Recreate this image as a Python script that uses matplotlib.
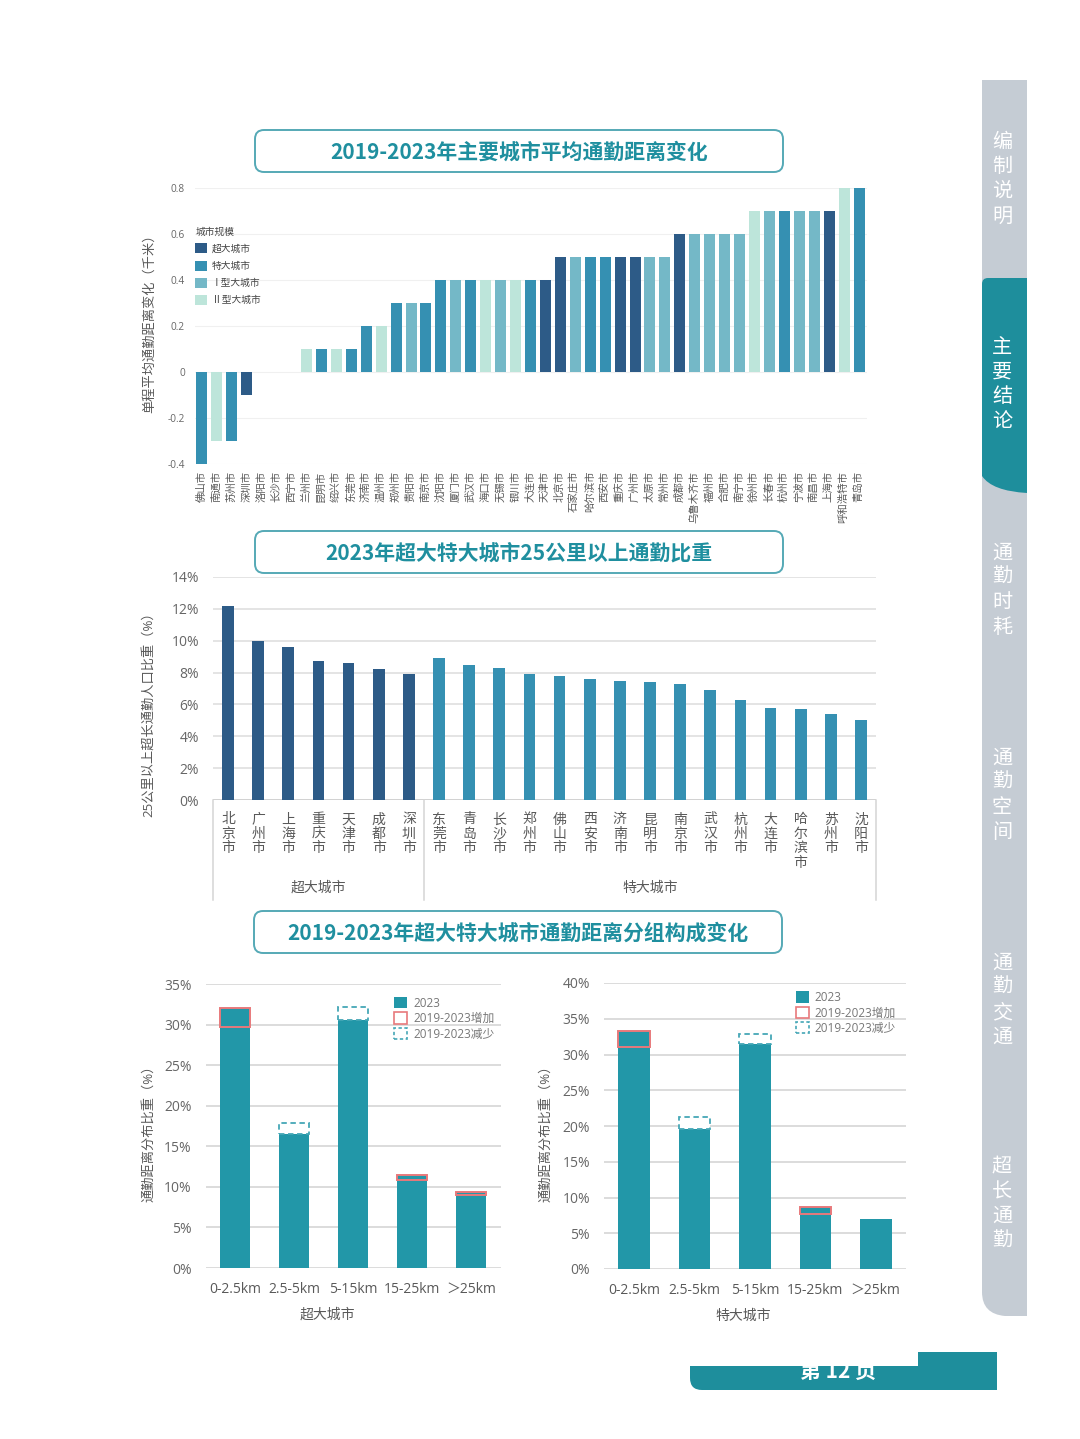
import matplotlib
matplotlib.use('Agg')
import matplotlib.pyplot as plt
from matplotlib.patches import FancyBboxPatch, Patch, PathPatch
from matplotlib.path import Path
import matplotlib.transforms as mtrans

# ---------------- data ----------------
top_cities = ['佛山市', '南通市', '苏州市', '深圳市', '洛阳市', '长沙市', '西宁市', '兰州市', '昆明市',
              '绍兴市', '东莞市', '济南市', '温州市', '郑州市', '贵阳市', '南京市', '沈阳市', '厦门市',
              '武汉市', '海口市', '无锡市', '银川市', '大连市', '天津市', '北京市', '石家庄市', '哈尔滨市',
              '西安市', '重庆市', '广州市', '太原市', '常州市', '成都市', '乌鲁木齐市', '福州市', '合肥市',
              '南宁市', '徐州市', '长春市', '杭州市', '宁波市', '南昌市', '上海市', '呼和浩特市', '青岛市']
top_values = [-0.4, -0.3, -0.3, -0.1, 0, 0, 0, 0.1, 0.1,
              0.1, 0.1, 0.2, 0.2, 0.3, 0.3, 0.3, 0.4, 0.4,
              0.4, 0.4, 0.4, 0.4, 0.4, 0.4, 0.5, 0.5, 0.5,
              0.5, 0.5, 0.5, 0.5, 0.5, 0.6, 0.6, 0.6, 0.6,
              0.6, 0.7, 0.7, 0.7, 0.7, 0.7, 0.7, 0.8, 0.8]
top_scale = ['特大城市', 'Ⅱ型大城市', '特大城市', '超大城市', 'Ⅰ型大城市', '特大城市', 'Ⅱ型大城市', 'Ⅱ型大城市', '特大城市',
             'Ⅱ型大城市', '特大城市', '特大城市', 'Ⅱ型大城市', '特大城市', 'Ⅰ型大城市', '特大城市', '特大城市', 'Ⅰ型大城市',
             '特大城市', 'Ⅱ型大城市', 'Ⅰ型大城市', 'Ⅱ型大城市', '特大城市', '超大城市', '超大城市', 'Ⅰ型大城市', '特大城市',
             '特大城市', '超大城市', '超大城市', 'Ⅰ型大城市', 'Ⅰ型大城市', '超大城市', 'Ⅰ型大城市', 'Ⅰ型大城市', 'Ⅰ型大城市',
             'Ⅰ型大城市', 'Ⅱ型大城市', 'Ⅰ型大城市', '特大城市', 'Ⅰ型大城市', 'Ⅰ型大城市', '超大城市', 'Ⅱ型大城市', '特大城市']
scale_names = ['超大城市', '特大城市', 'Ⅰ型大城市', 'Ⅱ型大城市']
top_yticks = [-0.4, -0.2, 0, 0.2, 0.4, 0.6, 0.8]
top_yticklabels = ['-0.4', '-0.2', '0', '0.2', '0.4', '0.6', '0.8']

mega_cities = ['北京市', '广州市', '上海市', '重庆市', '天津市', '成都市', '深圳市']
mega_share = [12.2, 10.0, 9.6, 8.7, 8.6, 8.2, 7.9]
special_cities = ['东莞市', '青岛市', '长沙市', '郑州市', '佛山市', '西安市', '济南市', '昆明市',
                  '南京市', '武汉市', '杭州市', '大连市', '哈尔滨市', '苏州市', '沈阳市']
special_share = [8.9, 8.5, 8.3, 7.9, 7.8, 7.6, 7.5, 7.4, 7.3, 6.9, 6.3, 5.8, 5.7, 5.4, 5.0]

dist_groups = ['0-2.5km', '2.5-5km', '5-15km', '15-25km', '＞25km']
mega_2023 = [32.0, 16.5, 30.6, 11.5, 9.4]
mega_2019 = [29.7, 17.9, 32.2, 10.9, 9.0]
special_2023 = [33.3, 19.6, 31.5, 8.7, 7.0]
special_2019 = [31.0, 21.3, 32.9, 7.7, 7.0]

nav_items = ['编制说明', '主要结论', '通勤时耗', '通勤空间', '通勤交通', '超长通勤']

# ---------------- styling ----------------
W, H = 1080, 1439
plt.rcParams['font.family'] = ['Open Sans', 'Noto Sans CJK SC', 'DejaVu Sans']
plt.rcParams['axes.unicode_minus'] = False

C_DARK = '#2d5b87'
C_MED = '#3590b2'
C_I = '#74b8c7'
C_II = '#bde5da'
scale_colors = {'超大城市': C_DARK, '特大城市': C_MED, 'Ⅰ型大城市': C_I, 'Ⅱ型大城市': C_II}
TEAL = '#2297a8'
RED = '#e8797b'
DASH = '#45a7b6'
TITLE_C = '#1f8f9f'
BOX_C = '#55a9b6'
TXT = '#595959'
GRID = '#dcdcdc'

fig = plt.figure(figsize=(W / 100, H / 100), dpi=100)
fig.patch.set_facecolor('white')


def rect(x0, y0, x1, y1):
    return [x0 / W, 1 - y1 / H, (x1 - x0) / W, (y1 - y0) / H]


ov = fig.add_axes([0, 0, 1, 1])
ov.set_xlim(0, W)
ov.set_ylim(H, 0)
ov.axis('off')

# title boxes
def title_box(x0, y0, x1, y1, text):
    ov.add_patch(FancyBboxPatch((x0, y0), x1 - x0, y1 - y0,
                                boxstyle='round,pad=0,rounding_size=9',
                                facecolor='white', edgecolor=BOX_C, lw=1.4))
    ov.text((x0 + x1) / 2, (y0 + y1) / 2 + 1, text, ha='center', va='center',
            fontsize=15, fontweight='bold', color=TITLE_C,
            family=['Noto Sans CJK SC', 'DejaVu Sans'])

title_box(255, 130, 783, 172, '2019-2023年主要城市平均通勤距离变化')
title_box(255, 531, 783, 573, '2023年超大特大城市25公里以上通勤比重')
title_box(254, 911, 782, 953, '2019-2023年超大特大城市通勤距离分组构成变化')

# side navigation
M, L, C3, CL = Path.MOVETO, Path.LINETO, Path.CURVE3, Path.CLOSEPOLY
gray_path = Path([(982, 80), (1027, 80), (1027, 1316), (1005, 1316), (982, 1314), (982, 1292), (982, 80)],
                 [M, L, L, L, C3, C3, CL])
ov.add_patch(PathPatch(gray_path, facecolor='#c5ccd4', edgecolor='none'))
teal_path = Path([(982, 284), (982, 278), (988, 278), (1027, 278), (1027, 493), (992, 491), (982, 476), (982, 284)],
                 [M, C3, C3, L, L, C3, C3, CL])
ov.add_patch(PathPatch(teal_path, facecolor='#1e8e9c', edgecolor='none'))
nav_y0 = [142, 347, 553, 758, 963, 1167]
for item, y0 in zip(nav_items, nav_y0):
    for k, ch in enumerate(item):
        ov.text(1002, y0 + k * 24.7, ch, ha='center', va='center', fontsize=14.5,
                color='white', family=['Noto Sans CJK SC'])

# footer
foot_path = Path([(918, 1352), (997, 1352), (997, 1390), (702, 1390), (690, 1390), (690, 1378),
                  (690, 1366), (918, 1366), (918, 1352)],
                 [M, L, L, L, C3, C3, L, L, CL])
foot = PathPatch(foot_path, facecolor='#1e8e9c', edgecolor='none')
ov.add_patch(foot)
ft = ov.text(838, 1371, '第 12 页', ha='center', va='center', fontsize=15, fontweight='bold',
             color='white', family=['Noto Sans CJK SC'])
ft.set_clip_path(foot)

# ---------------- chart 1 ----------------
ax1 = fig.add_axes(rect(194.5, 187.5, 866.5, 464))
ax1.set_facecolor('none')
x1 = list(range(len(top_cities)))
ax1.bar(x1, top_values, width=0.74, color=[scale_colors[s] for s in top_scale], linewidth=0, zorder=3)
ax1.set_xlim(-0.5, len(top_cities) - 0.5)
ax1.set_ylim(-0.4, 0.8)
ax1.set_yticks(top_yticks)
ax1.set_yticklabels(top_yticklabels)
ax1.set_xticks(x1)
ax1.set_xticklabels(top_cities, rotation=90, fontsize=7.5, color=TXT)
ax1.tick_params(axis='y', length=0, pad=7, labelsize=7.3, labelcolor='#666666')
ax1.tick_params(axis='x', length=0, pad=5)
for s in ax1.spines.values():
    s.set_visible(False)
ax1.grid(axis='y', color='#f0f0f0', lw=0.8, zorder=0)
ax1.set_ylabel('单程平均通勤距离变化（千米）', fontsize=9.5, color=TXT)
ax1.yaxis.set_label_coords(-0.058, 0.52)
handles1 = [Patch(facecolor=scale_colors[n], edgecolor='none') for n in scale_names]
lg1 = ax1.legend(handles1, scale_names, title='城市规模', loc='upper left', bbox_to_anchor=(0.0, 0.862),
                 frameon=False, fontsize=7, title_fontsize=7, handlelength=1.2, handleheight=1.2,
                 handletextpad=0.5, labelspacing=0.6, borderaxespad=0, borderpad=0.1, alignment='left')
for t in lg1.get_texts():
    t.set_color('#444444')
lg1.get_title().set_color('#444444')

# ---------------- chart 2 ----------------
ax2 = fig.add_axes(rect(213, 577, 876, 800))
ax2.set_facecolor('none')
names2 = mega_cities + special_cities
vals2 = mega_share + special_share
cols2 = [C_DARK] * len(mega_cities) + [C_MED] * len(special_cities)
x2 = list(range(len(names2)))
ax2.bar(x2, vals2, width=0.39, color=cols2, linewidth=0, zorder=3)
ax2.set_xlim(-0.5, len(names2) - 0.5)
ax2.set_ylim(0, 14)
ax2.set_yticks(range(0, 15, 2))
ax2.set_yticklabels([f'{v}%' for v in range(0, 15, 2)])
ax2.tick_params(axis='y', length=0, pad=10, labelsize=10, labelcolor='#666666')
ax2.set_xticks(x2)
ax2.set_xticklabels(['\n'.join(n) for n in names2], fontsize=10, color=TXT, linespacing=0.95)
ax2.tick_params(axis='x', length=0, pad=9)
for s in ax2.spines.values():
    s.set_visible(False)
ax2.grid(axis='y', color=GRID, lw=1.1, zorder=0)
ax2.axhline(0, color='#cfcfcf', lw=1.2, zorder=2)
tr2 = mtrans.blended_transform_factory(ax2.transData, ax2.transAxes)
n_mega = len(mega_cities)
for xs in [-0.5, n_mega - 0.5, len(names2) - 0.5]:
    ax2.plot([xs, xs], [0, -0.45], transform=tr2, color='#d5d5d5', lw=1.1, clip_on=False)
ax2.text((n_mega - 1) / 2, -0.395, '超大城市', transform=tr2, ha='center', va='center', fontsize=10, color=TXT)
ax2.text(n_mega + (len(special_cities) - 1) / 2, -0.395, '特大城市', transform=tr2, ha='center', va='center',
         fontsize=10, color=TXT)
ax2.set_ylabel('25公里以上超长通勤人口比重（%）', fontsize=9.5, color=TXT)
ax2.yaxis.set_label_coords(-0.087, 0.40)

# ---------------- chart 3 & 4 ----------------
def dist_chart(box, v23, v19, ymax, xlabel, xlab_x, ylab_x, leg_anchor):
    ax = fig.add_axes(rect(*box))
    ax.set_facecolor('none')
    xs = list(range(len(dist_groups)))
    ax.bar(xs, v23, width=0.52, color=TEAL, linewidth=0, zorder=3)
    for i, (a, b) in enumerate(zip(v23, v19)):
        if a > b:
            ax.bar(i, a - b, bottom=b, width=0.52, facecolor='none', edgecolor=RED, lw=1.4, zorder=4)
        elif b > a:
            ax.bar(i, b - a, bottom=a, width=0.52, facecolor='white', edgecolor=DASH, lw=1.3,
                   linestyle=(0, (3, 2)), zorder=4)
    ax.set_xlim(-0.5, len(dist_groups) - 0.5)
    ax.set_ylim(0, ymax)
    ax.set_yticks(range(0, ymax + 1, 5))
    ax.set_yticklabels([f'{v}%' for v in range(0, ymax + 1, 5)])
    ax.tick_params(axis='y', length=0, pad=10, labelsize=10, labelcolor='#666666')
    ax.set_xticks(xs)
    ax.set_xticklabels(dist_groups, fontsize=10, color=TXT)
    ax.tick_params(axis='x', length=0, pad=10)
    for s in ax.spines.values():
        s.set_visible(False)
    ax.grid(axis='y', color=GRID, lw=1.4, zorder=0)
    ax.set_xlabel(xlabel, fontsize=10, color=TXT)
    ax.xaxis.set_label_coords(xlab_x, -0.14)
    ax.set_ylabel('通勤距离分布比重（%）', fontsize=9.5, color=TXT)
    ax.yaxis.set_label_coords(ylab_x, 0.486)
    hs = [Patch(facecolor=TEAL, edgecolor='none'),
          Patch(facecolor='white', edgecolor=RED, lw=1.2),
          Patch(facecolor='white', edgecolor=DASH, lw=1.2, linestyle=(0, (2, 1.5)))]
    lg = ax.legend(hs, ['2023', '2019-2023增加', '2019-2023减少'], loc='upper left',
                   bbox_to_anchor=leg_anchor, frameon=False, fontsize=8.5, handlelength=1.1,
                   handleheight=1.1, handletextpad=0.5, labelspacing=0.2, borderaxespad=0, borderpad=0)
    for t in lg.get_texts():
        t.set_color('#777777')
    return ax

dist_chart((205.5, 984, 500.5, 1268), mega_2023, mega_2019, 35, '超大城市', 0.412, -0.171, (0.64, 0.955))
dist_chart((604, 983, 906, 1269), special_2023, special_2019, 40, '特大城市', 0.46, -0.172, (0.635, 0.972))

fig.savefig('out.png', dpi=100, facecolor='white')
